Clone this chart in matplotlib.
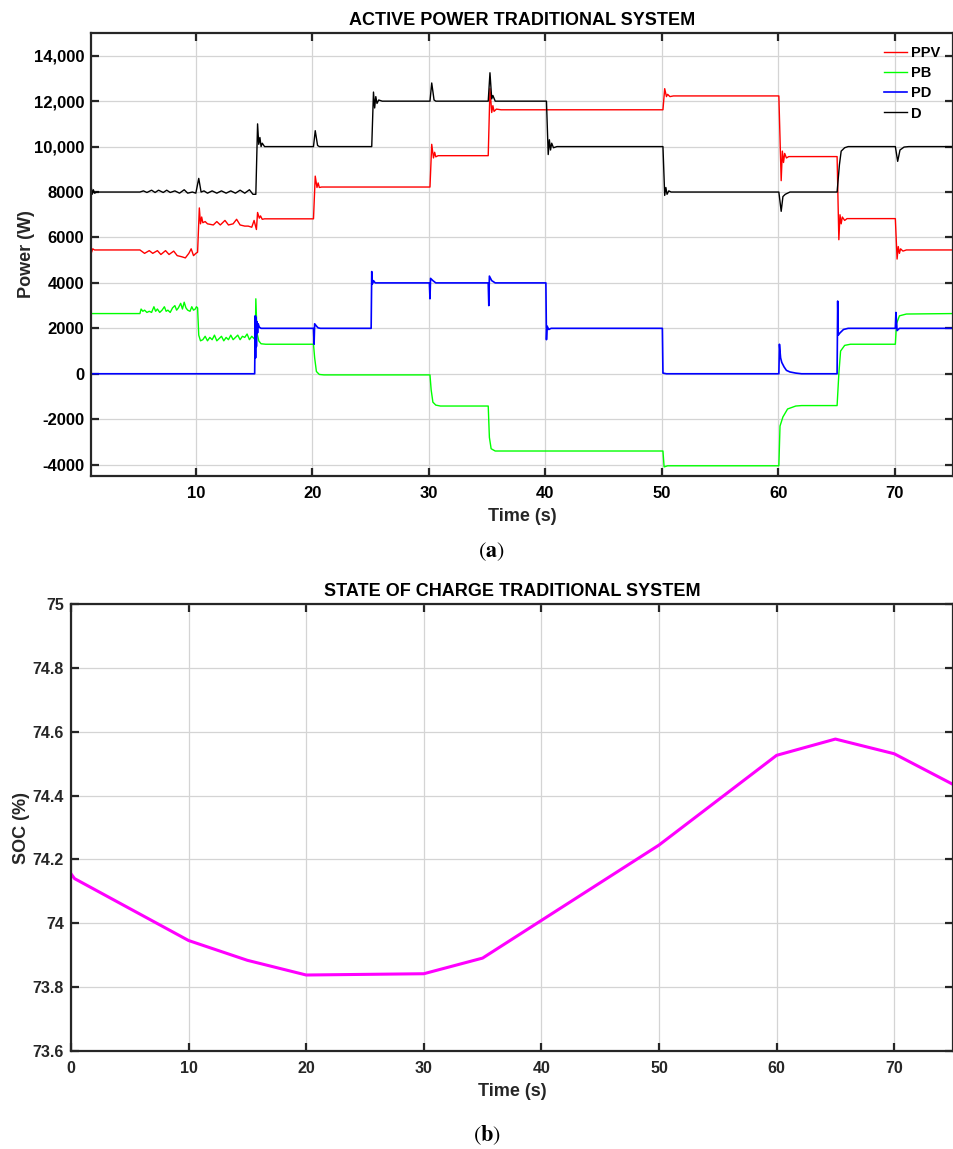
import numpy as np
import matplotlib
matplotlib.use("Agg")
import matplotlib.pyplot as plt

plt.rcParams['font.family'] = ['Liberation Sans', 'DejaVu Sans']
plt.rcParams['mathtext.fontset'] = 'stix'

# DATA
# active power traces: time (s) and power (W)
ppv_t = [1.0, 1.05, 1.15, 1.3, 5.2, 5.6, 6.0, 6.3, 6.7, 7.0, 7.4, 7.7, 8.1, 8.4, 8.8, 9.1, 9.4, 9.6, 9.8, 10.0,
         10.15, 10.3, 10.4, 10.5, 10.6, 10.8, 11.0, 11.5, 11.8, 12.1, 12.5, 12.8, 13.2, 13.5, 13.8, 14.2, 14.5,
         14.8, 15.0, 15.2, 15.3, 15.45, 15.55, 15.7, 15.9, 20.1, 20.25, 20.4, 20.5, 20.6, 20.8, 30.1, 30.25,
         30.4, 30.5, 30.6, 30.8, 35.1, 35.25, 35.4, 35.5, 35.6, 35.8, 36.2, 50.1, 50.25, 50.4, 50.5, 50.7, 51.0,
         60.05, 60.25, 60.35, 60.45, 60.55, 60.7, 60.9, 65.05, 65.2, 65.3, 65.4, 65.5, 65.7, 65.9, 70.05, 70.2,
         70.3, 70.4, 70.5, 70.7, 71.0, 75.0]
ppv_w = [5600, 5350, 5500, 5450, 5450, 5300, 5420, 5300, 5420, 5250, 5420, 5250, 5400, 5200, 5150, 5100, 5300,
         5500, 5200, 5300, 5350, 7300, 6600, 6900, 6650, 6700, 6600, 6550, 6700, 6550, 6750, 6550, 6600, 6800,
         6550, 6500, 6500, 6450, 6750, 6350, 7100, 6850, 6950, 6800, 6820, 6820, 8700, 8200, 8400, 8200, 8220,
         8220, 10100, 9500, 9750, 9550, 9600, 9600, 12550, 11500, 11800, 11550, 11650, 11620, 11620, 12550,
         12200, 12300, 12200, 12230, 12230, 8500, 9800, 9300, 9700, 9500, 9560, 9560, 5900, 7000, 6600, 6900,
         6750, 6830, 6830, 5050, 5600, 5300, 5500, 5400, 5450, 5450]

pb_t = [1.0, 5.2, 5.3, 5.45, 5.6, 5.8, 6.0, 6.2, 6.4, 6.55, 6.7, 6.9, 7.1, 7.3, 7.45, 7.6, 7.8, 8.0, 8.2,
        8.35, 8.5, 8.7, 8.85, 9.0, 9.15, 9.3, 9.5, 9.65, 9.8, 9.95, 10.05, 10.15, 10.25, 10.4, 10.6, 10.8,
        11.0, 11.2, 11.4, 11.6, 11.8, 12.0, 12.2, 12.4, 12.6, 12.8, 13.0, 13.2, 13.4, 13.6, 13.8, 14.0, 14.2,
        14.4, 14.6, 14.8, 15.0, 15.1, 15.15, 15.25, 15.4, 15.6, 16.0, 20.1, 20.2, 20.35, 20.6, 21.0, 30.1,
        30.2, 30.35, 30.6, 31.0, 35.1, 35.2, 35.35, 35.7, 50.1, 50.2, 50.5, 60.05, 60.15, 60.4, 60.8, 61.5,
        62.0, 65.05, 65.2, 65.35, 65.7, 66.2, 70.05, 70.15, 70.4, 71.0, 75.0]
pb_w = [2650, 2650, 2850, 2750, 2800, 2700, 2750, 2700, 2950, 2750, 2850, 2700, 2800, 2950, 2750, 2800, 2700,
        2900, 3000, 2800, 2900, 3100, 2850, 3150, 2900, 2800, 2750, 2950, 2800, 2850, 2950, 2900, 1700, 1450,
        1500, 1650, 1450, 1600, 1500, 1700, 1450, 1550, 1650, 1450, 1600, 1500, 1700, 1500, 1600, 1700, 1500,
        1650, 1600, 1750, 1500, 1650, 1550, 1500, 3300, 1800, 1450, 1320, 1300, 1300, 700, 100, -30, -50, -50,
        -700, -1250, -1380, -1420, -1420, -2800, -3300, -3400, -3400, -4100, -4050, -4050, -2300, -1900, -1550,
        -1420, -1400, -1400, 0, 1000, 1250, 1300, 1300, 2200, 2550, 2630, 2650]

pd_t = [1.0, 15.05, 15.1, 15.13, 15.16, 15.2, 15.24, 15.3, 15.35, 15.45, 15.6, 20.1, 20.15, 20.2, 20.35, 20.5,
        20.7, 25.05, 25.1, 25.15, 25.25, 25.4, 30.05, 30.1, 30.15, 30.35, 30.6, 35.1, 35.15, 35.2, 35.4, 35.7,
        40.05, 40.1, 40.15, 40.3, 40.5, 50.05, 50.1, 50.4, 60.05, 60.1, 60.2, 60.3, 60.5, 60.7, 61.0, 61.5,
        62.0, 65.05, 65.1, 65.15, 65.3, 65.6, 66.0, 70.05, 70.1, 70.2, 70.4, 75.0]
pd_w = [0, 0, 2550, 700, 2500, 1200, 2300, 1800, 2200, 2050, 2000, 2000, 1300, 2200, 2100, 2020, 2000, 2000,
        4500, 3950, 4100, 4000, 4000, 3300, 4200, 4100, 4000, 4000, 3000, 4300, 4100, 4000, 4000, 1500, 2100,
        1950, 2000, 2000, 30, 0, 0, 1300, 700, 500, 300, 150, 80, 30, 0, 0, 3200, 1700, 1800, 1950, 2000, 2000,
        2700, 1900, 2000, 2000]

d_t = [1.0, 1.1, 1.2, 1.3, 1.5, 5.2, 5.5, 5.8, 6.2, 6.5, 6.8, 7.2, 7.5, 7.8, 8.2, 8.6, 9.0, 9.3, 9.7, 10.0,
       10.25, 10.45, 10.7, 11.0, 11.4, 11.8, 12.2, 12.6, 13.0, 13.4, 13.8, 14.2, 14.6, 14.9, 15.15, 15.3,
       15.4, 15.5, 15.6, 15.7, 15.9, 20.1, 20.25, 20.45, 20.6, 25.1, 25.25, 25.35, 25.45, 25.55, 25.7, 26.0,
       30.1, 30.25, 30.45, 30.6, 35.1, 35.25, 35.4, 35.5, 35.7, 40.1, 40.25, 40.35, 40.45, 40.55, 40.7, 41.0,
       50.1, 50.25, 50.35, 50.45, 50.6, 50.8, 60.05, 60.25, 60.4, 60.6, 61.0, 65.05, 65.25, 65.4, 65.7, 66.0,
       70.05, 70.25, 70.45, 70.8, 71.2, 75.0]
d_w = [8300, 7900, 8100, 7950, 8000, 8000, 8050, 7980, 8080, 7980, 8080, 7980, 8080, 7980, 8050, 7950, 8100,
       7950, 8000, 7950, 8600, 8000, 8050, 7950, 8050, 7950, 8050, 7950, 8050, 7950, 8080, 7950, 8100, 7900,
       7900, 11000, 10100, 10400, 10000, 10150, 10000, 10000, 10700, 10050, 10000, 10000, 12400, 11700, 12200,
       11900, 12050, 12000, 12000, 12800, 12050, 12000, 12000, 13250, 12100, 12250, 12000, 12000, 9650, 10300,
       9850, 10150, 9950, 10000, 10000, 7850, 8200, 7900, 8050, 8000, 8000, 7150, 7800, 7900, 8000, 8000, 9200,
       9800, 9950, 10000, 10000, 9350, 9850, 9980, 10000, 10000]

# state of charge
soc_t = [0.0, 0.3, 10.0, 15.0, 20.0, 30.0, 35.0, 40.0, 50.0, 60.0, 65.0, 70.0, 75.0]
soc_v = [74.155, 74.14, 73.946, 73.884, 73.838, 73.842, 73.891, 74.009, 74.245, 74.526, 74.577, 74.531, 74.435]

power_ticks = [-4000, -2000, 0, 2000, 4000, 6000, 8000, 10000, 12000, 14000]
power_labels = ['-4000', '-2000', '0', '2000', '4000', '6000', '8000', '10,000', '12,000', '14,000']
soc_ticks = [73.6, 73.8, 74.0, 74.2, 74.4, 74.6, 74.8, 75.0]
soc_labels = ['73.6', '73.8', '74', '74.2', '74.4', '74.6', '74.8', '75']


def style_axes(ax, color, size):
    # matlab-like box with inward ticks on all sides
    ax.grid(True, color='#d4d4d4', linewidth=0.9)
    ax.set_axisbelow(True)
    for sp in ax.spines.values():
        sp.set_linewidth(1.6)
        sp.set_color('#262626')
    ax.tick_params(direction='in', length=6, width=1.6, top=True, right=True,
                   labelsize=size, labelcolor=color, color='#262626')
    ax.tick_params(axis='x', pad=7)
    ax.tick_params(axis='y', pad=5)
    for lab in ax.get_xticklabels() + ax.get_yticklabels():
        lab.set_fontweight('bold')


fig = plt.figure(figsize=(9.54, 11.49), dpi=100)

# top plot
ax1 = fig.add_axes([91 / 954, 1 - 476 / 1149, 862 / 954, 443 / 1149])
ax1.plot(ppv_t, ppv_w, color='#ff0000', linewidth=1.0, label='PPV')
ax1.plot(pb_t, pb_w, color='#00ff00', linewidth=1.0, label='PB')
ax1.plot(pd_t, pd_w, color='#0000ff', linewidth=1.2, label='PD')
ax1.plot(d_t, d_w, color='black', linewidth=1.0, label='D')
ax1.set_xlim(1, 75)
ax1.set_ylim(-4500, 15000)
ax1.set_xticks([10, 20, 30, 40, 50, 60, 70])
ax1.set_yticks(power_ticks)
ax1.set_yticklabels(power_labels)
style_axes(ax1, 'black', 12)
ax1.set_title('ACTIVE POWER TRADITIONAL SYSTEM', fontsize=13, fontweight='bold', pad=6)
ax1.set_xlabel('Time (s)', fontsize=13, fontweight='bold', color='#262626', labelpad=5)
ax1.set_ylabel('Power (W)', fontsize=13, fontweight='bold', color='#262626', labelpad=-1)
leg = ax1.legend(loc='upper right', frameon=False, fontsize=10.5, handlelength=1.6,
                 handletextpad=0.25, labelspacing=0.42, borderaxespad=0.5)
for txt in leg.get_texts():
    txt.set_fontweight('bold')

# bottom plot
ax2 = fig.add_axes([71 / 954, 1 - 1051 / 1149, 882 / 954, 447 / 1149])
ax2.plot(soc_t, soc_v, color='#ff00ff', linewidth=2.2)
ax2.set_xlim(0, 75)
ax2.set_ylim(73.6, 75)
ax2.set_xticks([0, 10, 20, 30, 40, 50, 60, 70])
ax2.set_yticks(soc_ticks)
ax2.set_yticklabels(soc_labels)
style_axes(ax2, '#262626', 11.5)
ax2.set_title('STATE OF CHARGE TRADITIONAL SYSTEM', fontsize=13, fontweight='bold', pad=6)
ax2.set_xlabel('Time (s)', fontsize=13, fontweight='bold', color='#262626', labelpad=5)
ax2.set_ylabel('SOC (%)', fontsize=13, fontweight='bold', color='#262626', labelpad=2)

fig.text(491 / 954, 1 - 552 / 1149, r'$(\mathbf{a})$', fontsize=16, ha='center', va='center')
fig.text(487 / 954, 1 - 1135 / 1149, r'$(\mathbf{b})$', fontsize=16, ha='center', va='center')

fig.savefig('out.png', dpi=100)
